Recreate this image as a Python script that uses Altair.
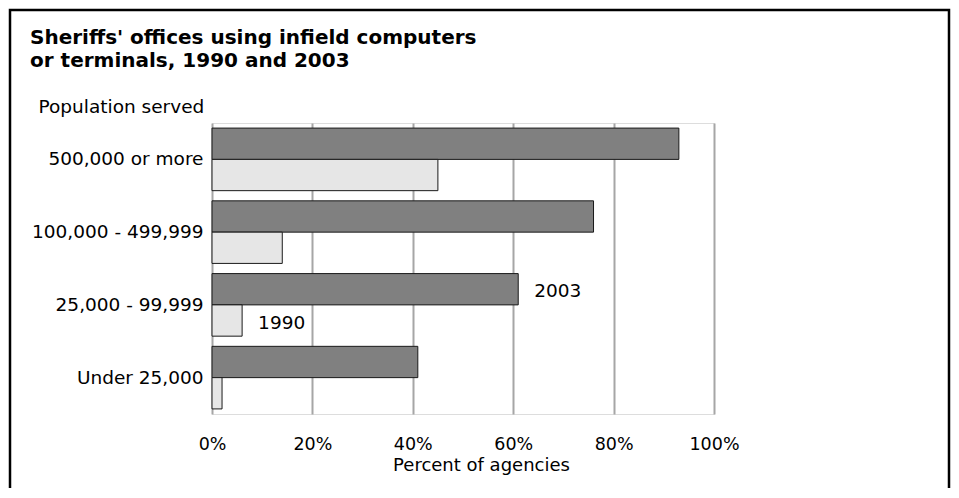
import altair as alt
import pandas as pd

categories = ["500,000 or more", "100,000 - 499,999", "25,000 - 99,999", "Under 25,000"]
years = ["2003", "1990"]
pct_2003 = [93, 76, 61, 41]
pct_1990 = [45, 14, 6, 2]
fills = ["#808080", "#e6e6e6"]
x_ticks = [0, 20, 40, 60, 80, 100]

ann_group = ["25,000 - 99,999", "25,000 - 99,999"]
ann_year = ["2003", "1990"]
ann_pct = [61, 6]
ann_text = ["2003", "1990"]

rows = []
for c, a, b in zip(categories, pct_2003, pct_1990):
    rows.append({"group": c, "year": "2003", "pct": a})
    rows.append({"group": c, "year": "1990", "pct": b})
df = pd.DataFrame(rows)
ann = pd.DataFrame({"group": ann_group, "year": ann_year, "pct": ann_pct, "label": ann_text})

FONT = "DejaVu Sans"
FS = 18.5

y_enc = alt.Y(
    "group:N",
    sort=categories,
    scale=alt.Scale(paddingInner=0.14, paddingOuter=0.07),
    axis=alt.Axis(
        title="Population served",
        titleAngle=0,
        titleAlign="left",
        titleBaseline="alphabetic",
        titleX=-174,
        titleY=-11,
        titleFontWeight="normal",
        titleFontSize=FS,
        titleFont=FONT,
        titleColor="#000",
        labelFontSize=FS,
        labelFont=FONT,
        labelColor="#000",
        labelPadding=9,
        ticks=False,
        domain=False,
        grid=False,
    ),
)
yoff = alt.YOffset("year:N", sort=years, scale=alt.Scale(paddingInner=0, paddingOuter=0))
x_enc = alt.X(
    "pct:Q",
    scale=alt.Scale(domain=[0, 100], nice=False),
    axis=alt.Axis(
        values=x_ticks,
        labelExpr="datum.value + '%'",
        title="Percent of agencies",
        titleX=269,
        titleY=56,
        titleBaseline="alphabetic",
        titleFontWeight="normal",
        titleFontSize=18,
        titleFont=FONT,
        titleColor="#000",
        labelFontSize=17.5,
        labelFont=FONT,
        labelColor="#000",
        labelBaseline="alphabetic",
        labelPadding=35,
        labelFlush=False,
        grid=True,
        gridColor="#a6a6a6",
        gridWidth=2,
        ticks=False,
        domain=False,
    ),
)

frame = alt.Chart(pd.DataFrame({"k": [0]})).mark_rect(
    fillOpacity=0, stroke="#000", strokeWidth=2.5
).encode(x=alt.value(-202), x2=alt.value(737), y=alt.value(-113), y2=alt.value(420))

bars = alt.Chart(df).mark_bar(stroke="#1a1a1a", strokeWidth=1).encode(
    x=x_enc,
    y=y_enc,
    yOffset=yoff,
    color=alt.Color("year:N", scale=alt.Scale(domain=years, range=fills), legend=None),
)

labels = alt.Chart(ann).mark_text(
    align="left", baseline="middle", dx=16, dy=2, font=FONT, fontSize=FS, color="#000"
).encode(
    x=alt.X("pct:Q"),
    y=alt.Y("group:N", sort=categories),
    yOffset=alt.YOffset("year:N", sort=years),
    text="label:N",
)

chart = (
    alt.layer(frame, bars, labels)
    .properties(
        width=502,
        height=291,
        padding={"left": 204, "top": 115, "right": 237, "bottom": 74},
        autosize=alt.AutoSizeParams(type="none"),
        title=alt.TitleParams(
            text=["Sheriffs' offices using infield computers", "or terminals, 1990 and 2003"],
            anchor="start",
            frame="group",
            dx=-182,
            dy=62,
            offset=0,
            fontSize=20,
            fontWeight="bold",
            font=FONT,
            color="#000",
            lineHeight=23,
        ),
    )
    .configure_view(stroke="#a6a6a6", strokeWidth=2)
    .configure(font=FONT)
)

chart.save("out.html", embed_options={"renderer": "svg", "actions": False})
